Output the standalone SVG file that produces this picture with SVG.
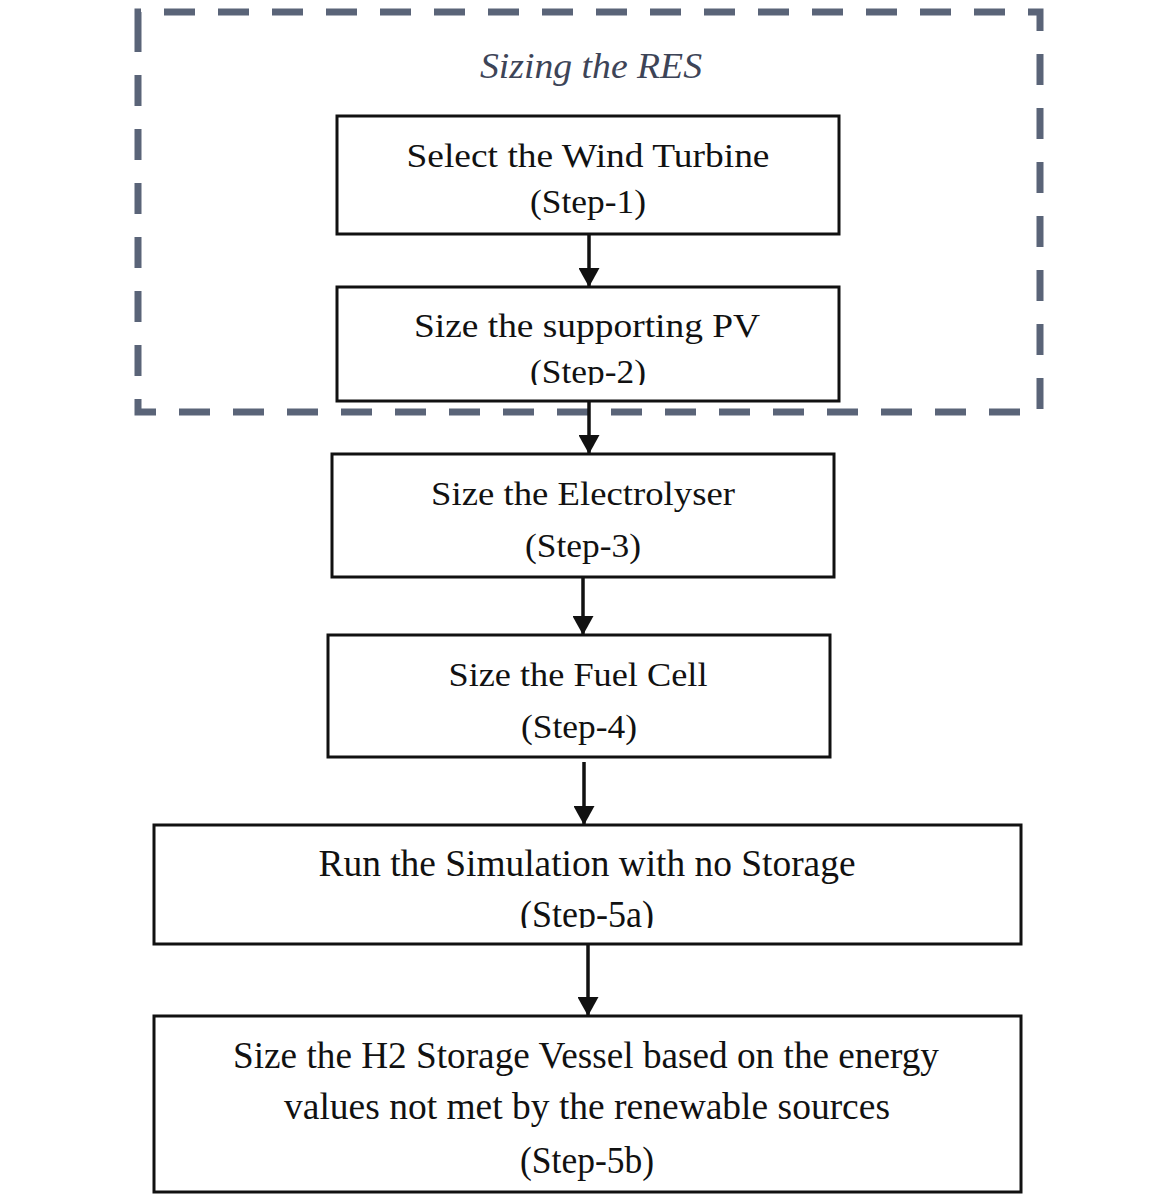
<svg xmlns="http://www.w3.org/2000/svg" width="1165" height="1194" viewBox="0 0 1165 1194">
  <defs>
    <style>
      .box { fill: #ffffff; stroke: #111111; stroke-width: 3; }
      .t { font-family: "Liberation Serif", "DejaVu Serif", serif; font-size: 34px; fill: #111111; text-anchor: middle; }
      .tb { font-family: "Liberation Serif", "DejaVu Serif", serif; font-size: 38px; fill: #111111; text-anchor: middle; }
      .title { font-family: "Liberation Serif", "DejaVu Serif", serif; font-size: 36px; font-style: italic; fill: #3d4457; text-anchor: middle; }
      .conn { stroke: #111111; stroke-width: 3.5; fill: none; marker-end: url(#arrow); }
      .group { fill: none; stroke: #5a6478; stroke-width: 7; stroke-dasharray: 31 23; }
    </style>
    <marker id="arrow" viewBox="0 0 19 21" refX="19" refY="10.5" markerWidth="19" markerHeight="21" markerUnits="userSpaceOnUse" orient="auto">
      <path d="M0,0 L19,10.5 L0,21 Z" fill="#111111"/>
    </marker>
    <clipPath id="clip2"><rect x="337" y="287" width="502" height="98"/></clipPath>
    <clipPath id="clip5"><rect x="154" y="825" width="867" height="103"/></clipPath>
  </defs>

  <g id="nodes">
    <g id="step1">
      <rect class="box" x="337" y="116" width="502" height="118"/>
      <text class="t" x="588" y="167" textLength="363" lengthAdjust="spacingAndGlyphs">Select the Wind Turbine</text>
      <text class="t" x="588" y="213" textLength="116" lengthAdjust="spacingAndGlyphs">(Step-1)</text>
    </g>
    <g id="step2">
      <rect class="box" x="337" y="287" width="502" height="114"/>
      <text class="t" x="587" y="337" textLength="346" lengthAdjust="spacingAndGlyphs">Size the supporting PV</text>
      <text class="t" x="588" y="383" textLength="116" lengthAdjust="spacingAndGlyphs" clip-path="url(#clip2)">(Step-2)</text>
    </g>
    <g id="step3">
      <rect class="box" x="332" y="454" width="502" height="123"/>
      <text class="t" x="583" y="505" textLength="304" lengthAdjust="spacingAndGlyphs">Size the Electrolyser</text>
      <text class="t" x="583" y="557" textLength="116" lengthAdjust="spacingAndGlyphs">(Step-3)</text>
    </g>
    <g id="step4">
      <rect class="box" x="328" y="635" width="502" height="122"/>
      <text class="t" x="578" y="686" textLength="259" lengthAdjust="spacingAndGlyphs">Size the Fuel Cell</text>
      <text class="t" x="579" y="738" textLength="116" lengthAdjust="spacingAndGlyphs">(Step-4)</text>
    </g>
    <g id="step5a">
      <rect class="box" x="154" y="825" width="867" height="119"/>
      <text class="tb" x="587" y="876" textLength="537" lengthAdjust="spacingAndGlyphs">Run the Simulation with no Storage</text>
      <text class="tb" x="587" y="927" textLength="134" lengthAdjust="spacingAndGlyphs" clip-path="url(#clip5)">(Step-5a)</text>
    </g>
    <g id="step5b">
      <rect class="box" x="154" y="1016" width="867" height="176"/>
      <text class="tb" x="586" y="1068" textLength="706" lengthAdjust="spacingAndGlyphs">Size the H2 Storage Vessel based on the energy</text>
      <text class="tb" x="587" y="1119" textLength="606" lengthAdjust="spacingAndGlyphs">values not met by the renewable sources</text>
      <text class="tb" x="587" y="1173" textLength="134" lengthAdjust="spacingAndGlyphs">(Step-5b)</text>
    </g>
  </g>

  <g id="group-res">
    <path class="group" d="M138,40 L138,12 L1040,12 L1040,412 L138,412 L138,40"/>
    <text class="title" x="591" y="78" textLength="222" lengthAdjust="spacingAndGlyphs">Sizing the RES</text>
  </g>

  <g id="connectors">
    <line class="conn" x1="589" y1="234" x2="589" y2="287"/>
    <line class="conn" x1="589" y1="401" x2="589" y2="454"/>
    <line class="conn" x1="583" y1="577" x2="583" y2="635"/>
    <line class="conn" x1="584" y1="762" x2="584" y2="825"/>
    <line class="conn" x1="588" y1="944" x2="588" y2="1016"/>
  </g>
</svg>
